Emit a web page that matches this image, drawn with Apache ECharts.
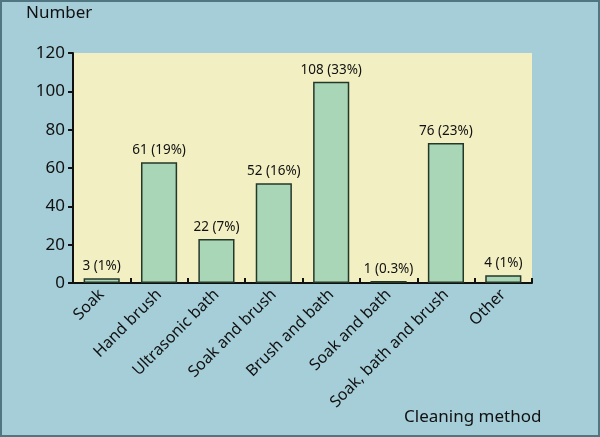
<!DOCTYPE html>
<html><head><meta charset="utf-8">
<script src="https://cdn.jsdelivr.net/npm/echarts@6/dist/echarts.min.js"></script>
<style>html,body{margin:0;padding:0;background:#a5ced8;}#c{width:600px;height:437px;}</style>
</head><body><div id="c"></div>
<script>
const categories = ['Soak','Hand brush','Ultrasonic bath','Soak and brush','Brush and bath','Soak and bath','Soak, bath and brush','Other'];
// bar heights as drawn in the picture
const barHeights = [2.5, 63, 23, 52, 105, 1, 73, 4];
// printed labels
const barLabels = ['3 (1%)','61 (19%)','22 (7%)','52 (16%)','108 (33%)','1 (0.3%)','76 (23%)','4 (1%)'];
const yTicks = [0, 20, 40, 60, 80, 100, 120];

const FONT = '"Noto Sans", "Open Sans", sans-serif';
const chart = echarts.init(document.getElementById('c'));
chart.setOption({
  animation: false,
  backgroundColor: '#a5ced8',
  graphic: [
    {type:'rect', shape:{x:1,y:1,width:598,height:435}, style:{fill:'none', stroke:'#4f7681', lineWidth:2}, silent:true, z:100},
    {type:'text', left:26, top:5, style:{text:'Number', font:'17px ' + FONT, fill:'#111'}},
    {type:'text', left:404, top:409, style:{text:'Cleaning method', font:'17px ' + FONT, fill:'#111'}}
  ],
  grid: {left:73, right:68, top:53, bottom:154, show:true, backgroundColor:'#f2efc3', borderWidth:0},
  xAxis: {
    type:'category', data:categories,
    axisLine:{show:true, lineStyle:{color:'#111', width:2}},
    axisTick:{show:true, inside:true, length:5, alignWithLabel:false, lineStyle:{color:'#111', width:2}},
    axisLabel:{rotate:45, interval:0, margin:9, fontSize:16, color:'#111', fontFamily:FONT}
  },
  yAxis: {
    type:'value', min:0, max:120, interval:20,
    splitLine:{show:false},
    axisLine:{show:true, lineStyle:{color:'#111', width:2}},
    axisTick:{show:true, length:5, lineStyle:{color:'#111', width:2}},
    axisLabel:{fontSize:17, color:'#111', fontFamily:FONT, margin:8,
      formatter: v => yTicks.includes(v) ? String(v) : ''}
  },
  series: [{
    type:'bar',
    data: barHeights.map((v,i)=>({value:v, label:{formatter:barLabels[i]}})),
    barWidth:'63%',
    itemStyle:{color:'#a8d6b6', borderColor:'#24382a', borderWidth:1.5},
    label:{show:true, position:'top', distance:5, fontSize:13.5, color:'#111', fontFamily:FONT}
  }]
});
</script></body></html>
